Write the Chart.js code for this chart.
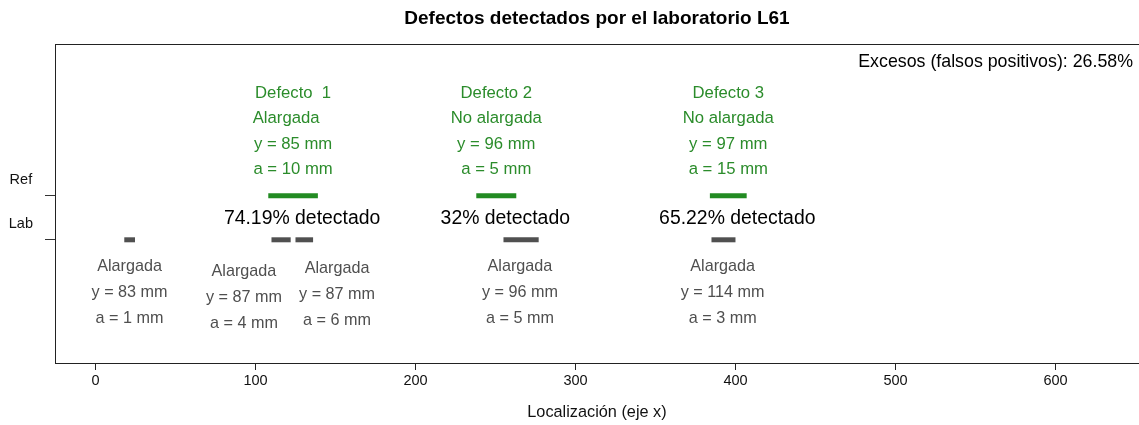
<!DOCTYPE html>
<html>
<head>
<meta charset="utf-8">
<script src="https://cdn.jsdelivr.net/npm/chart.js@4.4.0/dist/chart.umd.min.js"></script>
<style>
  html, body { margin: 0; padding: 0; background: #fff; }
  #defectChart { display: block; }
</style>
</head>
<body>
<canvas id="defectChart" width="1139" height="425"></canvas>
<script>
// Segment ends along x (mm) for the reference and the lab
const refStart = [108, 238, 384];
const refEnd = [139, 263, 407];
const labStart = [18, 110, 125, 255, 385];
const labEnd = [24.7, 122, 136, 277, 400];

// Reference defect annotations
const refNames = ['Defecto  1', 'Defecto 2', 'Defecto 3'];
const refShapes = ['Alargada   ', 'No alargada', 'No alargada'];
const refDepthY = [85, 96, 97];
const refSizeA = [10, 5, 15];
const detectedPct = ['74.19%', '32%', '65.22%'];

// Lab indication annotations
const labShapes = ['Alargada', 'Alargada', 'Alargada', 'Alargada', 'Alargada'];
const labDepthY = [83, 87, 87, 96, 114];
const labSizeA = [1, 4, 6, 5, 3];
const labTextX = [21.3, 92.8, 151, 265.3, 392];
const labTextDrop = [0, 4.5, 2, 0, 0];

const xTicks = [0, 100, 200, 300, 400, 500, 600];
const rowValues = [0, 1];
const rowLabels = ['Lab', 'Ref'];
const titleText = 'Defectos detectados por el laboratorio L61';
const excessText = 'Excesos (falsos positivos): 26.58%';

const FONT = '"Liberation Sans", Arial, sans-serif';
const GREEN = '#2b8c2b';
const GRAY = '#4f4f4f';

function segmentSet(x0, x1, row, color) {
    return {
        type: 'scatter',
        showLine: true,
        data: [{ x: x0, y: row }, { x: x1, y: row }],
        borderColor: color,
        borderWidth: 5,
        borderCapStyle: 'butt',
        pointRadius: 0
    };
}

const datasets = [];
refStart.forEach((s, i) => datasets.push(segmentSet(s, refEnd[i], 1, '#228b22')));
labStart.forEach((s, i) => datasets.push(segmentSet(s, labEnd[i], 0, '#505050')));

// Draws the title, the box and all the text notes
const annotations = {
    id: 'annotations',
    afterDraw(chart) {
        const { ctx, chartArea, scales } = chart;
        const xs = scales.x, ys = scales.y;
        ctx.save();
        ctx.strokeStyle = '#222';
        ctx.lineWidth = 1;
        // right side of the box falls outside the canvas, as in the original
        ctx.strokeRect(chartArea.left + 0.5, chartArea.top + 0.5, chartArea.right - chartArea.left + 4, chartArea.bottom - chartArea.top);

        ctx.textAlign = 'center';
        ctx.textBaseline = 'middle';
        ctx.fillStyle = '#000';
        ctx.font = 'bold 19px ' + FONT;
        ctx.fillText(titleText, (chartArea.left + chartArea.right) / 2, 19);

        ctx.textAlign = 'right';
        ctx.font = '17.8px ' + FONT;
        ctx.fillText(excessText, chartArea.right - 6, chartArea.top + 18);

        ctx.textAlign = 'center';
        const refPx = ys.getPixelForValue(1);
        const labPx = ys.getPixelForValue(0);

        refStart.forEach((s, i) => {
            const cx = xs.getPixelForValue((s + refEnd[i]) / 2);
            ctx.fillStyle = GREEN;
            ctx.font = '16.7px ' + FONT;
            ctx.fillText(refNames[i], cx, refPx - 102);
            ctx.fillText(refShapes[i], cx, refPx - 77);
            ctx.fillText('y = ' + refDepthY[i] + ' mm', cx, refPx - 51);
            ctx.fillText('a = ' + refSizeA[i] + ' mm', cx, refPx - 26);
            ctx.fillStyle = '#000';
            ctx.font = '19.4px ' + FONT;
            ctx.fillText(detectedPct[i] + ' detectado', cx + 9, refPx + 23);
        });

        ctx.fillStyle = GRAY;
        ctx.font = '16.2px ' + FONT;
        labTextX.forEach((v, i) => {
            const cx = xs.getPixelForValue(v);
            const y0 = labPx + labTextDrop[i];
            ctx.fillText(labShapes[i], cx, y0 + 27);
            ctx.fillText('y = ' + labDepthY[i] + ' mm', cx, y0 + 53);
            ctx.fillText('a = ' + labSizeA[i] + ' mm', cx, y0 + 79);
        });
        ctx.restore();
    }
};

new Chart(document.getElementById('defectChart'), {
    type: 'scatter',
    data: { datasets },
    options: {
        responsive: false,
        animation: false,
        devicePixelRatio: 1,
        layout: { padding: { top: 44, right: 0, left: 0, bottom: 0 } },
        plugins: {
            legend: { display: false },
            tooltip: { enabled: false },
            title: { display: false }
        },
        scales: {
            x: {
                type: 'linear',
                min: -25.3,
                max: 652.2,
                afterBuildTicks: axis => { axis.ticks = xTicks.map(v => ({ value: v })); },
                afterFit: axis => { axis.height = 62; },
                grid: { drawOnChartArea: false, drawTicks: true, tickLength: 7, color: '#222' },
                border: { display: true, color: '#222' },
                ticks: {
                    color: '#111',
                    padding: 2,
                    maxRotation: 0,
                    font: { family: FONT, size: 14.5 }
                },
                title: {
                    display: true,
                    text: 'Localización (eje x)',
                    color: '#111',
                    font: { family: FONT, size: 16.3 },
                    padding: { top: 4, bottom: 3 }
                }
            },
            y: {
                type: 'linear',
                min: -2.8,
                max: 4.45,
                afterBuildTicks: axis => { axis.ticks = rowValues.map(v => ({ value: v })); },
                afterFit: axis => { axis.width = 55; },
                grid: { drawOnChartArea: false, drawTicks: true, tickLength: 10, color: '#333' },
                border: { display: true, color: '#222' },
                ticks: {
                    color: '#111',
                    padding: 12,
                    crossAlign: 'center',
                    labelOffset: -16,
                    font: { family: FONT, size: 14.5 },
                    callback: value => rowLabels[rowValues.indexOf(value)]
                }
            }
        }
    },
    plugins: [annotations]
});
</script>
</body>
</html>
